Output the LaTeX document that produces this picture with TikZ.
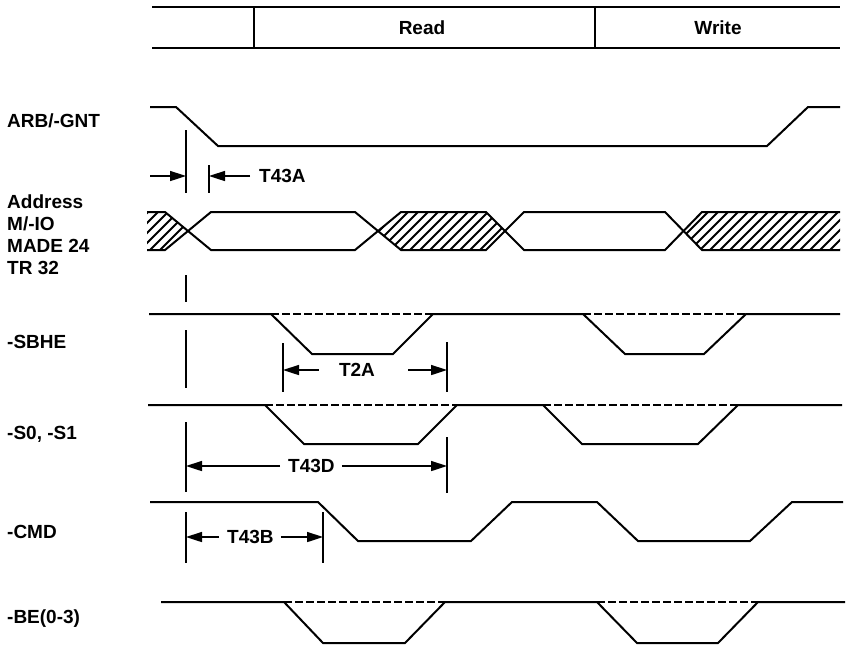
\documentclass[tikz,border=0pt]{standalone}
\usepackage{fontspec}
\setmainfont{Liberation Sans}
\usetikzlibrary{arrows.meta}

\tikzset{
  sig/.style={line width=2pt},
  hold/.style={line width=1.7pt, dash pattern=on 8pt off 3pt},
  hatch/.style={line width=1.8pt},
  bar/.style={line width=2.5pt},
  dim/.style={line width=1.5pt},
  dimarrow/.style={line width=1.6pt, -{Triangle[length=16pt,width=10pt]}},
  lbl/.style={font=\fontsize{19}{22}\selectfont\bfseries, anchor=west, inner sep=0pt, text height=13.6pt, text depth=0pt},
  tag/.style={font=\fontsize{19}{22}\selectfont\bfseries, inner sep=0pt, text height=13.6pt, text depth=0pt},
}

\begin{document}
\begin{tikzpicture}[x=1pt, y=-1pt]
            \useasboundingbox (0,0) rectangle (850,646);

            % Cycle header
            \draw[bar] (152,7) -- (840,7);
            \draw[bar] (152,48) -- (840,48);
            \draw[sig] (254,7) -- (254,48);
            \draw[sig] (595,7) -- (595,48);
            \node[tag] (read) at (422,28) {Read};
            \node[tag] (write) at (718,28) {Write};

            % Signal names
            \node[lbl] (arb) at (7,121) {ARB/-GNT};
            \foreach \t [count=\i] in {Address, M/-IO, MADE 24, TR 32}
                \node[lbl] (addr\i) at (7,{180+22*\i}) {\t};
            \node[lbl] (sbhe) at (7,342) {-SBHE};
            \node[lbl] (status) at (7,433) {-S0, -S1};
            \node[lbl] (cmd) at (7,532) {-CMD};
            \node[lbl] (be) at (7,617) {-BE(0-3)};

            % ARB/-GNT
            \draw[sig] (150,107) -- (176,107) -- (218,146) -- (767,146) -- (808,107) -- (840,107);

            % Address bus, hatched = not valid
            \begin{scope}
                \clip (147,212) -- (165,212) -- (188,231) -- (165,250) -- (147,250) -- cycle;
                \foreach \x in {100,110,...,200}
                    \draw[hatch] (\x,250) -- ++(38,-38);
            \end{scope}
            \begin{scope}
                \clip (378,231) -- (401,212) -- (486,212) -- (505,231) -- (486,250) -- (401,250) -- cycle;
                \foreach \x in {330,340,...,510}
                    \draw[hatch] (\x,250) -- ++(38,-38);
            \end{scope}
            \begin{scope}
                \clip (683,231) -- (702,212) -- (840,212) -- (840,250) -- (702,250) -- cycle;
                \foreach \x in {640,650,...,850}
                    \draw[hatch] (\x,250) -- ++(38,-38);
            \end{scope}
            \draw[sig] (147,212) -- (165,212) -- (211,250) -- (355,250) -- (401,212) -- (486,212) -- (524,250) -- (665,250) -- (702,212) -- (840,212);
            \draw[sig] (147,250) -- (165,250) -- (211,212) -- (355,212) -- (401,250) -- (486,250) -- (524,212) -- (665,212) -- (702,250) -- (840,250);

            % -SBHE
            \draw[sig] (149,314) -- (271,314) -- (312,354) -- (393,354) -- (433,314) -- (583,314) -- (625,354) -- (704,354) -- (746,314) -- (840,314);
            \draw[hold] (271,314) -- (433,314);
            \draw[hold] (583,314) -- (746,314);

            % -S0, -S1
            \draw[sig] (148,405) -- (265,405) -- (304,444) -- (418,444) -- (457,405) -- (543,405) -- (582,444) -- (698,444) -- (738,405) -- (842,405);
            \draw[hold] (265,405) -- (457,405);
            \draw[hold] (543,405) -- (738,405);

            % -CMD
            \draw[sig] (150,502) -- (318,502) -- (358,541) -- (471,541) -- (512,502) -- (597,502) -- (638,541) -- (750,541) -- (792,502) -- (843,502);

            % -BE(0-3)
            \draw[sig] (161,602) -- (284,602) -- (323,643) -- (405,643) -- (445,602) -- (597,602) -- (637,643) -- (718,643) -- (758,602) -- (845,602);
            \draw[hold] (284,602) -- (445,602);
            \draw[hold] (597,602) -- (758,602);

            % Reference edge
            \foreach \a/\b in {130/193, 275/302, 330/388, 422/492, 512/563}
                \draw[dim] (186,\a) -- (186,\b);
            \draw[dim] (209,165) -- (209,193);
            \draw[dim] (283,343) -- (283,392);
            \draw[dim] (447,342) -- (447,392);
            \draw[dim] (447,437) -- (447,493);
            \draw[dim] (323,512) -- (323,563);

            % T43A
            \coordinate (t43a-in) at (150,176);
            \coordinate (t43a-l) at (186,176);
            \coordinate (t43a-r) at (209,176);
            \node[tag, anchor=west] (t43a) at (259,176) {T43A};
            \draw[dimarrow] (t43a-in) -- (t43a-l);
            \draw[dimarrow] ([xshift=-9pt]t43a.west) -- (t43a-r);

            % T2A
            \coordinate (t2a-l) at (283,370);
            \coordinate (t2a-r) at (447,370);
            \node[tag] (t2a) at (357,370) {T2A};
            \draw[dimarrow] ([xshift=-20pt]t2a.west) -- (t2a-l);
            \draw[dimarrow] ([xshift=33pt]t2a.east) -- (t2a-r);

            % T43D
            \coordinate (t43d-l) at (186,466);
            \coordinate (t43d-r) at (447,466);
            \node[tag, anchor=west] (t43d) at (288,466) {T43D};
            \draw[dimarrow] ([xshift=-8pt]t43d.west) -- (t43d-l);
            \draw[dimarrow] ([xshift=7pt]t43d.east) -- (t43d-r);

            % T43B
            \coordinate (t43b-l) at (186,537);
            \coordinate (t43b-r) at (323,537);
            \node[tag, anchor=west] (t43b) at (227,537) {T43B};
            \draw[dimarrow] ([xshift=-8pt]t43b.west) -- (t43b-l);
            \draw[dimarrow] ([xshift=7pt]t43b.east) -- (t43b-r);
\end{tikzpicture}
\end{document}
